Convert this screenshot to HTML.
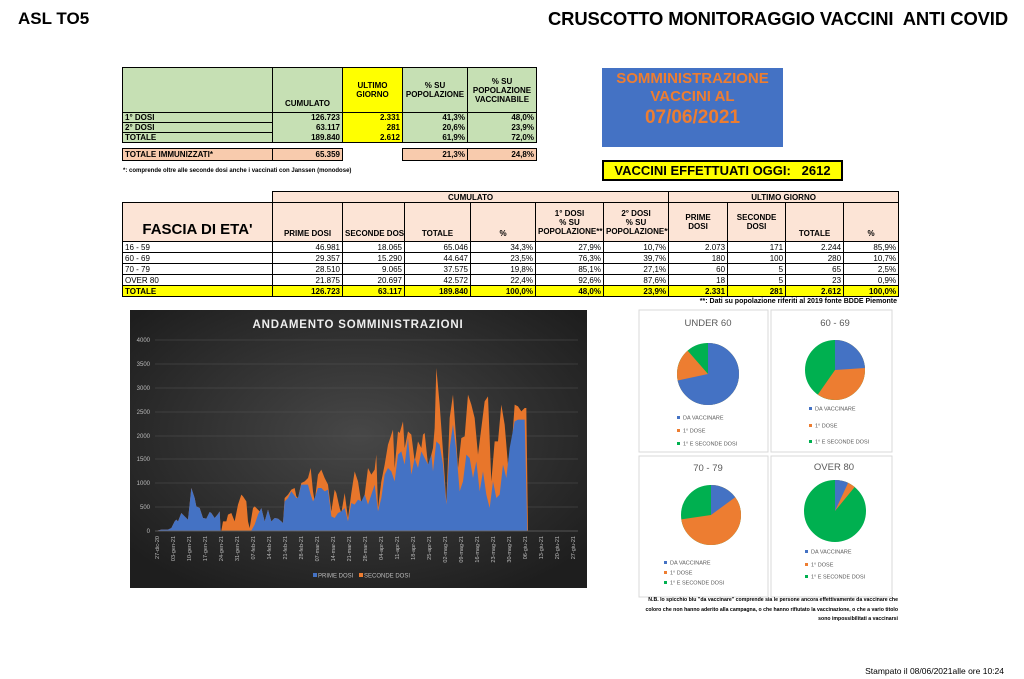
<!DOCTYPE html><html><head><meta charset="utf-8"><style>
body{margin:0;width:1024px;height:679px;background:#fff;position:relative;overflow:hidden;font-family:"Liberation Sans",sans-serif;color:#000}
.a{position:absolute}
table{border-collapse:collapse;position:absolute;table-layout:fixed}
td{padding:0 2px;font-size:8px;line-height:9px;overflow:hidden;white-space:nowrap}
.b{font-weight:bold}
.r{text-align:right}.c{text-align:center}
</style></head><body>
<div class="a b" style="left:18px;top:9px;font-size:17px">ASL TO5</div>
<div class="a b" style="left:548px;top:8px;font-size:18.4px;letter-spacing:-0.1px">CRUSCOTTO MONITORAGGIO VACCINI&nbsp; ANTI COVID</div>

<!-- table 1 -->
<table style="left:122px;top:67px;width:414px">
<colgroup><col style="width:150px"><col style="width:70px"><col style="width:60px"><col style="width:65px"><col style="width:69px"></colgroup>
<tr style="height:45px"><td style="background:#c6e0b4;border:1.5px solid #000"></td><td class="b c" style="background:#c6e0b4;border:1.5px solid #000;vertical-align:bottom;padding-bottom:4px">CUMULATO</td><td class="b c" style="background:#ffff00;border:1.5px solid #000;white-space:normal">ULTIMO GIORNO</td><td class="b c" style="background:#c6e0b4;border:1.5px solid #000;white-space:normal">% SU POPOLAZIONE</td><td class="b c" style="background:#c6e0b4;border:1.5px solid #000;white-space:normal">% SU POPOLAZIONE VACCINABILE</td></tr>
<tr style="height:10px;background:#c6e0b4"><td class="b" style="border-left:1.5px solid #000;border-top:1.5px solid #000">1° DOSI</td><td class="b r" style="border-left:1.5px solid #000">126.723</td><td class="b r" style="background:#ff0;border-left:1.5px solid #000">2.331</td><td class="b r" style="border-left:1.5px solid #000">41,3%</td><td class="b r" style="border-left:1.5px solid #000;border-right:1.5px solid #000">48,0%</td></tr>
<tr style="height:9px;background:#c6e0b4"><td class="b" style="border-left:1.5px solid #000;border-top:1px solid #000">2° DOSI</td><td class="b r" style="border-left:1.5px solid #000">63.117</td><td class="b r" style="background:#ff0;border-left:1.5px solid #000">281</td><td class="b r" style="border-left:1.5px solid #000">20,6%</td><td class="b r" style="border-left:1.5px solid #000;border-right:1.5px solid #000">23,9%</td></tr>
<tr style="height:9px;background:#c6e0b4"><td class="b" style="border-left:1.5px solid #000;border-top:1px solid #000;border-bottom:1.5px solid #000">TOTALE</td><td class="b r" style="border-left:1.5px solid #000;border-bottom:1.5px solid #000">189.840</td><td class="b r" style="background:#ff0;border-left:1.5px solid #000;border-bottom:1.5px solid #000">2.612</td><td class="b r" style="border-left:1.5px solid #000;border-bottom:1.5px solid #000">61,9%</td><td class="b r" style="border:1.5px solid #000;border-top:0">72,0%</td></tr>
<tr style="height:6px"><td colspan="5"></td></tr>
<tr style="height:12px"><td class="b" style="background:#f8cbad;border:1.5px solid #000">TOTALE IMMUNIZZATI*</td><td class="b r" style="background:#f8cbad;border:1.5px solid #000">65.359</td><td></td><td class="b r" style="background:#f8cbad;border:1.5px solid #000">21,3%</td><td class="b r" style="background:#f8cbad;border:1.5px solid #000">24,8%</td></tr>
</table>
<div class="a b" style="left:123px;top:168px;font-size:6px">*: comprende oltre alle seconde dosi anche i vaccinati con Janssen (monodose)</div>

<div class="a b" style="left:602px;top:68px;width:181px;height:79px;background:#4472c4;color:#ed7d31;text-align:center">
<div style="font-size:15px;margin-top:2px;line-height:18px">SOMMINISTRAZIONE<br>VACCINI AL</div><div style="font-size:19px;line-height:24px">07/06/2021</div></div>
<div class="a b" style="left:602px;top:160px;width:237px;height:17px;background:#ff0;border:2px solid #000;font-size:13px;line-height:17px;text-align:center">VACCINI EFFETTUATI OGGI:&nbsp;&nbsp; 2612</div>

<!-- table 2 -->
<table style="left:122px;top:191px;width:776px">
<colgroup><col style="width:150px"><col style="width:70px"><col style="width:62px"><col style="width:66px"><col style="width:65px"><col style="width:68px"><col style="width:65px"><col style="width:59px"><col style="width:58px"><col style="width:58px"><col style="width:55px"></colgroup>
<tr style="height:11px"><td></td><td colspan="6" class="b c" style="background:#fce4d6;border:1.5px solid #000">CUMULATO</td><td colspan="4" class="b c" style="background:#fce4d6;border:1.5px solid #000">ULTIMO GIORNO</td></tr>
<tr style="height:39px;background:#fce4d6">
<td class="b c" style="border:1.5px solid #000;font-size:15px;line-height:16px;vertical-align:bottom;padding-bottom:3px">FASCIA DI ETA'</td>
<td class="b c" style="border:1px solid #000;vertical-align:bottom;padding-bottom:3px">PRIME DOSI</td>
<td class="b c" style="border:1px solid #000;vertical-align:bottom;padding-bottom:3px">SECONDE DOSI</td>
<td class="b c" style="border:1px solid #000;vertical-align:bottom;padding-bottom:3px">TOTALE</td>
<td class="b c" style="border:1px solid #000;vertical-align:bottom;padding-bottom:3px">%</td>
<td class="b c" style="border:1px solid #000;white-space:normal">1° DOSI<br>% SU<br>POPOLAZIONE**</td>
<td class="b c" style="border:1px solid #000;border-right:1.5px solid #000">2° DOSI<br>% SU<br>POPOLAZIONE**</td>
<td class="b c" style="border:1px solid #000">PRIME<br>DOSI</td>
<td class="b c" style="border:1px solid #000">SECONDE<br>DOSI</td>
<td class="b c" style="border:1px solid #000;vertical-align:bottom;padding-bottom:3px">TOTALE</td>
<td class="b c" style="border:1px solid #000;border-right:1.5px solid #000;vertical-align:bottom;padding-bottom:3px">%</td></tr>
<tr style="height:11px"><td style="border:1px solid #000">16 - 59</td><td class="r" style="border:1px solid #000">46.981</td><td class="r" style="border:1px solid #000">18.065</td><td class="r" style="border:1px solid #000">65.046</td><td class="r" style="border:1px solid #000">34,3%</td><td class="r" style="border:1px solid #000">27,9%</td><td class="r" style="border:1px solid #000">10,7%</td><td class="r" style="border:1px solid #000">2.073</td><td class="r" style="border:1px solid #000">171</td><td class="r" style="border:1px solid #000">2.244</td><td class="r" style="border:1px solid #000">85,9%</td></tr>
<tr style="height:11px"><td style="border:1px solid #000">60 - 69</td><td class="r" style="border:1px solid #000">29.357</td><td class="r" style="border:1px solid #000">15.290</td><td class="r" style="border:1px solid #000">44.647</td><td class="r" style="border:1px solid #000">23,5%</td><td class="r" style="border:1px solid #000">76,3%</td><td class="r" style="border:1px solid #000">39,7%</td><td class="r" style="border:1px solid #000">180</td><td class="r" style="border:1px solid #000">100</td><td class="r" style="border:1px solid #000">280</td><td class="r" style="border:1px solid #000">10,7%</td></tr>
<tr style="height:11px"><td style="border:1px solid #000">70 - 79</td><td class="r" style="border:1px solid #000">28.510</td><td class="r" style="border:1px solid #000">9.065</td><td class="r" style="border:1px solid #000">37.575</td><td class="r" style="border:1px solid #000">19,8%</td><td class="r" style="border:1px solid #000">85,1%</td><td class="r" style="border:1px solid #000">27,1%</td><td class="r" style="border:1px solid #000">60</td><td class="r" style="border:1px solid #000">5</td><td class="r" style="border:1px solid #000">65</td><td class="r" style="border:1px solid #000">2,5%</td></tr>
<tr style="height:11px"><td style="border:1px solid #000">OVER 80</td><td class="r" style="border:1px solid #000">21.875</td><td class="r" style="border:1px solid #000">20.697</td><td class="r" style="border:1px solid #000">42.572</td><td class="r" style="border:1px solid #000">22,4%</td><td class="r" style="border:1px solid #000">92,6%</td><td class="r" style="border:1px solid #000">87,6%</td><td class="r" style="border:1px solid #000">18</td><td class="r" style="border:1px solid #000">5</td><td class="r" style="border:1px solid #000">23</td><td class="r" style="border:1px solid #000">0,9%</td></tr>
<tr style="height:11px;background:#ff0"><td class="b" style="border:1.5px solid #000">TOTALE</td><td class="b r" style="border:1.5px solid #000">126.723</td><td class="b r" style="border:1.5px solid #000">63.117</td><td class="b r" style="border:1.5px solid #000">189.840</td><td class="b r" style="border:1.5px solid #000">100,0%</td><td class="b r" style="border:1.5px solid #000">48,0%</td><td class="b r" style="border:1.5px solid #000">23,9%</td><td class="b r" style="border:1.5px solid #000">2.331</td><td class="b r" style="border:1.5px solid #000">281</td><td class="b r" style="border:1.5px solid #000">2.612</td><td class="b r" style="border:1.5px solid #000">100,0%</td></tr>
</table>
<div class="a b" style="right:127px;top:298px;font-size:7px">**: Dati su popolazione riferiti al 2019 fonte BDDE Piemonte</div>

<!-- area chart -->
<svg class="a" style="left:0;top:0" width="1024" height="679">
<defs><radialGradient id="g" cx="50%" cy="45%" r="65%"><stop offset="0" stop-color="#474747"/><stop offset="1" stop-color="#1e1e1e"/></radialGradient></defs>
<rect x="130" y="310" width="457" height="278" fill="url(#g)"/>
<text x="358" y="328" fill="#eee" font-size="11.5" font-weight="bold" text-anchor="middle" font-family="Liberation Sans" letter-spacing="0.8">ANDAMENTO SOMMINISTRAZIONI</text>
<g stroke="#555" stroke-width="0.5">
<line x1="155" x2="578" y1="340" y2="340"/><line x1="155" x2="578" y1="364" y2="364"/><line x1="155" x2="578" y1="388" y2="388"/><line x1="155" x2="578" y1="412" y2="412"/><line x1="155" x2="578" y1="436" y2="436"/><line x1="155" x2="578" y1="459" y2="459"/><line x1="155" x2="578" y1="483" y2="483"/><line x1="155" x2="578" y1="507" y2="507"/></g>
<g fill="#bbb" font-size="6" font-family="Liberation Sans" text-anchor="end">
<text x="150" y="342">4000</text><text x="150" y="366">3500</text><text x="150" y="390">3000</text><text x="150" y="414">2500</text><text x="150" y="438">2000</text><text x="150" y="461">1500</text><text x="150" y="485">1000</text><text x="150" y="509">500</text><text x="150" y="533">0</text></g>
<g transform="translate(128,308) scale(0.33333)">
<polygon fill="#e8762b" points="88,668 100,665 120,665 130,660 140,640 145,635 150,640 160,615 170,625 180,635 190,540 200,570 205,595 215,600 225,630 235,632 245,612 250,615 260,630 270,618 275,610 278,668 280,668 285,640 295,640 300,620 310,615 320,640 330,590 340,560 345,565 355,580 360,640 365,660 375,600 380,595 395,610 400,600 410,640 420,605 430,640 440,630 450,632 460,640 465,645 470,570 480,560 490,545 500,540 505,565 510,570 520,525 530,520 540,510 548,480 555,550 560,580 565,540 570,500 580,485 590,510 600,530 610,610 620,545 625,555 635,600 640,615 650,555 660,630 670,555 680,490 690,520 700,585 710,560 720,480 730,500 740,485 745,440 750,600 760,520 770,470 780,410 790,380 795,365 800,480 810,370 815,375 825,340 830,420 840,370 850,380 860,460 870,400 880,420 885,380 890,375 900,470 905,460 915,420 920,360 925,180 935,290 945,430 955,580 965,330 975,260 985,400 990,480 1000,390 1010,385 1020,260 1030,290 1040,330 1050,440 1060,360 1070,280 1080,265 1090,520 1100,400 1110,400 1120,290 1130,350 1140,470 1150,430 1160,290 1170,295 1180,310 1190,300 1195,300 1200,668"/>
<polygon fill="#4472c4" points="88,668 100,665 120,665 130,660 140,640 145,635 150,640 160,615 170,625 180,635 190,540 200,570 205,595 215,600 225,630 235,632 245,612 250,615 260,630 270,618 275,610 278,668 370,668 380,650 390,620 400,600 410,640 420,605 430,640 440,630 450,632 460,640 465,645 470,580 480,570 490,550 505,570 510,570 520,530 540,530 548,560 555,580 560,570 570,540 580,540 590,550 600,545 610,625 620,630 630,615 640,610 650,600 660,640 670,585 680,590 690,575 700,580 710,560 720,590 730,560 740,530 750,610 760,570 770,500 780,480 790,490 800,520 810,440 820,430 830,470 840,390 850,500 860,450 870,480 880,430 890,450 900,470 910,440 915,490 925,400 935,410 945,470 955,590 965,420 975,350 985,430 995,550 1005,520 1015,440 1025,450 1035,510 1045,460 1055,550 1065,490 1075,560 1085,600 1095,520 1105,570 1115,560 1125,470 1135,510 1145,420 1160,340 1170,335 1190,335 1198,668"/>
</g>
<line x1="155" x2="578" y1="531" y2="531" stroke="#888" stroke-width="0.6"/>
<g fill="#bbb" font-size="5.5" font-family="Liberation Sans" text-anchor="end">
<text transform="translate(159,536) rotate(-90)">27-dic-20</text><text transform="translate(175,536) rotate(-90)">03-gen-21</text><text transform="translate(191,536) rotate(-90)">10-gen-21</text><text transform="translate(207,536) rotate(-90)">17-gen-21</text><text transform="translate(223,536) rotate(-90)">24-gen-21</text><text transform="translate(239,536) rotate(-90)">31-gen-21</text><text transform="translate(255,536) rotate(-90)">07-feb-21</text><text transform="translate(271,536) rotate(-90)">14-feb-21</text><text transform="translate(287,536) rotate(-90)">21-feb-21</text><text transform="translate(303,536) rotate(-90)">28-feb-21</text><text transform="translate(319,536) rotate(-90)">07-mar-21</text><text transform="translate(335,536) rotate(-90)">14-mar-21</text><text transform="translate(351,536) rotate(-90)">21-mar-21</text><text transform="translate(367,536) rotate(-90)">28-mar-21</text><text transform="translate(383,536) rotate(-90)">04-apr-21</text><text transform="translate(399,536) rotate(-90)">11-apr-21</text><text transform="translate(415,536) rotate(-90)">18-apr-21</text><text transform="translate(431,536) rotate(-90)">25-apr-21</text><text transform="translate(447,536) rotate(-90)">02-mag-21</text><text transform="translate(463,536) rotate(-90)">09-mag-21</text><text transform="translate(479,536) rotate(-90)">16-mag-21</text><text transform="translate(495,536) rotate(-90)">23-mag-21</text><text transform="translate(511,536) rotate(-90)">30-mag-21</text><text transform="translate(527,536) rotate(-90)">06-giu-21</text><text transform="translate(543,536) rotate(-90)">13-giu-21</text><text transform="translate(559,536) rotate(-90)">20-giu-21</text><text transform="translate(575,536) rotate(-90)">27-giu-21</text></g>
<rect x="313" y="573" width="4" height="4" fill="#4472c4"/><text x="318" y="577.5" fill="#bbb" font-size="6" font-family="Liberation Sans">PRIME DOSI</text>
<rect x="359" y="573" width="4" height="4" fill="#ed7d31"/><text x="364" y="577.5" fill="#bbb" font-size="6" font-family="Liberation Sans">SECONDE DOSI</text>

<!-- pies -->
<g fill="#fff" stroke="#d9d9d9" stroke-width="1"><rect x="639" y="310" width="129" height="142"/><rect x="771" y="310" width="121" height="142"/><rect x="639" y="456" width="129" height="141"/><rect x="771" y="456" width="121" height="141"/></g>
<g font-family="Liberation Sans" fill="#595959" font-size="9.5" text-anchor="middle"><text x="708" y="326">UNDER 60</text><text x="835" y="326">60 - 69</text><text x="708" y="471">70 - 79</text><text x="834" y="470">OVER 80</text></g>
<g fill="none" stroke-width="31">
<g transform="translate(708,374) rotate(-90)"><circle r="15.5" pathLength="100" stroke="#00b050" stroke-dasharray="100 0"/><circle r="15.5" pathLength="100" stroke="#ed7d31" stroke-dasharray="89 100"/><circle r="15.5" pathLength="100" stroke="#4472c4" stroke-dasharray="72 100"/></g>
<g transform="translate(835,370) rotate(-90)"><circle r="15" stroke-width="30" pathLength="100" stroke="#00b050" stroke-dasharray="100 0"/><circle r="15" stroke-width="30" pathLength="100" stroke="#ed7d31" stroke-dasharray="60 100"/><circle r="15" stroke-width="30" pathLength="100" stroke="#4472c4" stroke-dasharray="24 100"/></g>
<g transform="translate(711,515) rotate(-90)"><circle r="15" stroke-width="30" pathLength="100" stroke="#00b050" stroke-dasharray="100 0"/><circle r="15" stroke-width="30" pathLength="100" stroke="#ed7d31" stroke-dasharray="73 100"/><circle r="15" stroke-width="30" pathLength="100" stroke="#4472c4" stroke-dasharray="15 100"/></g>
<g transform="translate(835,511) rotate(-90)"><circle r="15.5" pathLength="100" stroke="#00b050" stroke-dasharray="100 0"/><circle r="15.5" pathLength="100" stroke="#ed7d31" stroke-dasharray="11 100"/><circle r="15.5" pathLength="100" stroke="#4472c4" stroke-dasharray="7 100"/></g>
</g>
<g font-family="Liberation Sans" fill="#595959" font-size="5.5">
<rect x="677" y="416" width="3" height="3" fill="#4472c4"/><text x="683" y="419.5">DA VACCINARE</text>
<rect x="677" y="429" width="3" height="3" fill="#ed7d31"/><text x="683" y="432.5">1° DOSE</text>
<rect x="677" y="442" width="3" height="3" fill="#00b050"/><text x="683" y="445.5">1° E SECONDE DOSI</text>
<rect x="809" y="407" width="3" height="3" fill="#4472c4"/><text x="815" y="410.5">DA VACCINARE</text>
<rect x="809" y="424" width="3" height="3" fill="#ed7d31"/><text x="815" y="427.5">1° DOSE</text>
<rect x="809" y="440" width="3" height="3" fill="#00b050"/><text x="815" y="443.5">1° E SECONDE DOSI</text>
<rect x="664" y="561" width="3" height="3" fill="#4472c4"/><text x="670" y="564.5">DA VACCINARE</text>
<rect x="664" y="571" width="3" height="3" fill="#ed7d31"/><text x="670" y="574.5">1° DOSE</text>
<rect x="664" y="581" width="3" height="3" fill="#00b050"/><text x="670" y="584.5">1° E SECONDE DOSI</text>
<rect x="805" y="550" width="3" height="3" fill="#4472c4"/><text x="811" y="553.5">DA VACCINARE</text>
<rect x="805" y="563" width="3" height="3" fill="#ed7d31"/><text x="811" y="566.5">1° DOSE</text>
<rect x="805" y="575" width="3" height="3" fill="#00b050"/><text x="811" y="578.5">1° E SECONDE DOSI</text>
</g>
</svg>
<div class="a b" style="right:126px;top:596px;width:320px;font-size:5.2px;line-height:9.5px;text-align:right">N.B. lo spicchio blu "da vaccinare" comprende sia le persone ancora effettivamente da vaccinare che<br>coloro che non hanno aderito alla campagna, o che hanno rifiutato la vaccinazione, o che a vario titolo<br>sono impossibilitati a vaccinarsi</div>
<div class="a" style="right:20px;top:666px;font-size:8.5px">Stampato il 08/06/2021alle ore 10:24</div>
</body></html>
